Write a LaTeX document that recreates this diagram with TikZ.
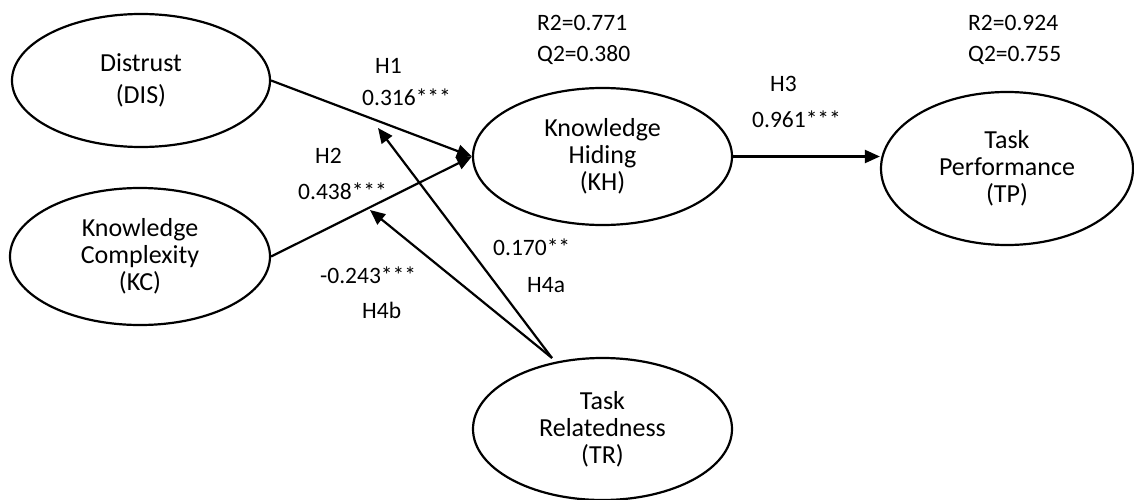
\documentclass[tikz,border=0pt]{standalone}
\usepackage{fontspec}
\setmainfont{Carlito}
\usetikzlibrary{shapes.geometric,arrows.meta}

\tikzset{
  construct/.style={draw, line width=2.2pt, ellipse, inner sep=0pt,
    align=center, font=\fontsize{26}{27}\selectfont},
  path/.style={line width=2.2pt, -{Triangle[length=15pt,width=13pt]}},
  coef/.style={anchor=base west, inner sep=0pt, font=\fontsize{23.5}{28}\selectfont}
}

\begin{document}
\begin{tikzpicture}[x=1pt,y=-1pt]
  \useasboundingbox (0,0) rectangle (1134,500);

  % latent constructs
  \node[construct, minimum width=258pt, minimum height=133pt,
        font=\fontsize{26}{32}\selectfont] (DIS) at (141,80.5) {Distrust\\(DIS)};
  \node[construct, minimum width=260pt, minimum height=137pt] (KC) at (140,256.5) {Knowledge\\Complexity\\(KC)};
  \node[construct, minimum width=259pt, minimum height=137pt] (KH) at (602.5,156.5) {Knowledge\\Hiding\\(KH)};
  \node[construct, minimum width=252pt, minimum height=153pt] (TP) at (1007,168.5) {Task\\Performance\\(TP)};
  \node[construct, minimum width=259pt, minimum height=142pt] (TR) at (602.5,429) {Task\\Relatedness\\(TR)};

  % moderation targets on the direct paths
  \coordinate (m1) at (378,128);
  \coordinate (m2) at (370,210);
  \coordinate (trtop) at (552,358);

  % structural paths
  \draw[path] (DIS.east) -- (KH.west);
  \draw[path] (KC.east) -- (KH.west);
  \draw[path] (KH.east) -- (KH.east -| TP.west);
  \draw[path] (trtop) -- (m1);
  \draw[path] (trtop) -- (m2);

  % path coefficients
  \node[coef] (h1) at (375,74) {H1};
  \node[coef] (b1) at (362,106) {0.316***};
  \node[coef] (h2) at (315,163) {H2};
  \node[coef] (b2) at (298,199) {0.438***};
  \node[coef] (b4a) at (493,255) {0.170**};
  \node[coef] (h4a) at (527,292) {H4a};
  \node[coef] (b4b) at (320,283) {-0.243***};
  \node[coef] (h4b) at (362,318) {H4b};
  \node[coef] (h3) at (770,92) {H3};
  \node[coef] (b3) at (752,128) {0.961***};

  % explained variance and predictive relevance
  \node[coef] (r2kh) at (537,31) {R2=0.771};
  \node[coef] (q2kh) at (537,62) {Q2=0.380};
  \node[coef] (r2tp) at (968,31) {R2=0.924};
  \node[coef] (q2tp) at (968,62) {Q2=0.755};
\end{tikzpicture}
\end{document}
